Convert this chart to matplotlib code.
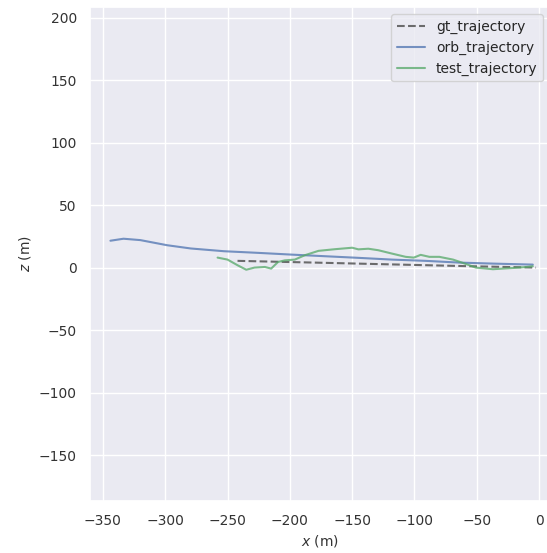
import matplotlib
matplotlib.use("Agg")
import matplotlib.pyplot as plt
import seaborn as sns

sns.set_theme(style="darkgrid")
plt.rcParams['font.family'] = ['DejaVu Sans']

orb_x = [-344, -333.5, -320, -298.5, -279.5, -252.8, -225.7, -198.8, -171.8, -144.9, -118, -91, -64, -37, -5]
orb_z = [21.8, 23.4, 22.3, 18.2, 15.6, 13.4, 12.1, 10.7, 9.4, 8.1, 6.7, 5.7, 4.3, 3.5, 2.7]

gt_x = [-242, -180, -120, -60, -2.4]
gt_z = [5.7, 4.3, 2.9, 1.5, 0.3]

test_x = [-258, -250, -242, -235, -228.4, -220, -215, -209.5, -204, -196, -188, -177, -164, -150,
          -145, -137, -129, -118, -107, -100.5, -95, -88, -80, -69, -61, -50.7, -37, -21, -10, -5]
test_z = [8.3, 6.7, 2.2, -1.4, 0.3, 0.8, -0.5, 4.8, 6.1, 6.7, 10.2, 13.7, 15.0, 16.2,
          14.9, 15.4, 14.2, 11.5, 8.9, 8.3, 10.5, 8.9, 8.9, 6.7, 4.0, 0.3, -1.0, 0.0, 0.8, 1.4]

W, H = 547, 553
fig = plt.figure(figsize=(W / 100, H / 100), dpi=100)
ax = fig.add_axes([90 / W, (H - 500.7) / H, 460 / W, 493.7 / H])

ax.plot(gt_x, gt_z, '--', color='#555555', alpha=0.85, lw=1.5, label='gt_trajectory')
ax.plot(orb_x, orb_z, color='#4C72B0', alpha=0.75, lw=1.5, label='orb_trajectory')
ax.plot(test_x, test_z, color='#55A868', alpha=0.75, lw=1.5, label='test_trajectory')

ax.set_xlim(-360.4, 8.8)
ax.set_ylim(-186.2, 208.8)
ax.set_xticks([-350, -300, -250, -200, -150, -100, -50, 0])
ax.set_yticks([-150, -100, -50, 0, 50, 100, 150, 200])
ax.tick_params(labelsize=10, colors='#333333')
ax.set_xlabel('$x$ (m)', fontsize=10, color='#333333')
ax.set_ylabel('$z$ (m)', fontsize=10, color='#333333')
ax.legend(loc='upper right', fontsize=10)

fig.savefig('out.png', dpi=100)
